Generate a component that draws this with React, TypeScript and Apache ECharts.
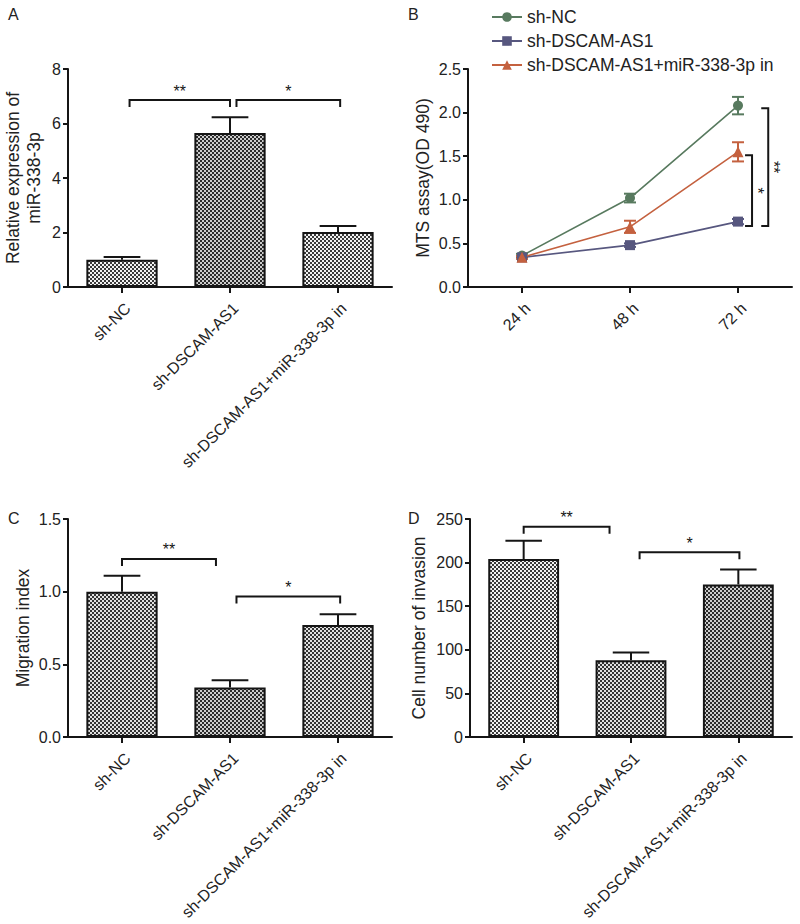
import React, { useEffect, useRef } from 'react';
import * as echarts from 'echarts';

// ---------- data ----------
const groups = ['sh-NC', 'sh-DSCAM-AS1', 'sh-DSCAM-AS1+miR-338-3p in'];
const hours = ['24 h', '48 h', '72 h'];

// Panel A
const relExprMean = [1.0, 5.65, 2.02];
const relExprErr = [0.1, 0.58, 0.22];
const relExprTicks = { min: 0, max: 8, interval: 2 };

// Panel B
const mtsNC = [0.36, 1.02, 2.08];
const mtsNCErr = [0.02, 0.05, 0.1];
const mtsSh = [0.34, 0.48, 0.75];
const mtsShErr = [0.015, 0.02, 0.03];
const mtsShMiR = [0.34, 0.69, 1.55];
const mtsShMiRErr = [0.015, 0.07, 0.11];
const mtsTicks = { min: 0, max: 2.5, interval: 0.5 };

// Panel C
const migrationMean = [1.0, 0.34, 0.77];
const migrationErr = [0.11, 0.05, 0.075];
const migrationTicks = { min: 0, max: 1.5, interval: 0.5 };

// Panel D
const invasionMean = [204, 88, 175];
const invasionErr = [21, 9, 17];
const invasionTicks = { min: 0, max: 250, interval: 50 };

// significance brackets (category positions, value level, label)
const sigA = [
  { from: 0.07, to: 1.0, level: 6.86, label: '**' },
  { from: 1.06, to: 2.02, level: 6.86, label: '*' },
];
const sigC = [
  { from: 0.0, to: 0.87, level: 1.225, label: '**' },
  { from: 1.06, to: 2.02, level: 0.966, label: '*' },
];
const sigD = [
  { from: 0.0, to: 0.8, level: 241, label: '**' },
  { from: 1.08, to: 2.01, level: 212, label: '*' },
];
const sigB = [
  { cat: 2, pos: 0.28, top: 2.05, bottom: 0.7, label: '**' },
  { cat: 2, pos: 0.13, top: 1.51, bottom: 0.7, label: '*' },
];

// ---------- styling ----------
const FONT = '"Liberation Sans", Arial, Helvetica, sans-serif';
const INK = '#151515';
const TXT = '#222';
const lineColors = ['#587a5f', '#57577f', '#c4613f'];

function makePattern(dark: string, light: string) {
  const c = document.createElement('canvas');
  c.width = 4;
  c.height = 4;
  const ctx = c.getContext('2d')!;
  ctx.fillStyle = light;
  ctx.fillRect(0, 0, 4, 4);
  ctx.fillStyle = dark;
  ctx.fillRect(0, 0, 2, 2);
  ctx.fillRect(2, 2, 2, 2);
  return { image: c, repeat: 'repeat', imageWidth: 4, imageHeight: 4 } as any;
}

function barErrRenderer(params: any, api: any) {
  const x = api.value(0);
  const mean = api.value(1);
  const err = api.value(2);
  const base = api.coord([x, mean]);
  const top = api.coord([x, mean + err]);
  const half = api.size([1, 0])[0] * 0.17;
  return {
    type: 'group',
    children: [
      { type: 'line', shape: { x1: base[0], y1: base[1], x2: top[0], y2: top[1] }, style: { stroke: INK, lineWidth: 2 } },
      { type: 'line', shape: { x1: top[0] - half, y1: top[1], x2: top[0] + half, y2: top[1] }, style: { stroke: INK, lineWidth: 2 } },
    ],
  };
}

function lineErrRenderer(color: string) {
  return (params: any, api: any) => {
    const x = api.value(0);
    const mean = api.value(1);
    const err = api.value(2);
    const lo = api.coord([x, mean - err]);
    const hi = api.coord([x, mean + err]);
    const half = 6;
    const st = { stroke: color, lineWidth: 2 };
    return {
      type: 'group',
      children: [
        { type: 'line', shape: { x1: lo[0], y1: lo[1], x2: hi[0], y2: hi[1] }, style: st },
        { type: 'line', shape: { x1: hi[0] - half, y1: hi[1], x2: hi[0] + half, y2: hi[1] }, style: st },
        { type: 'line', shape: { x1: lo[0] - half, y1: lo[1], x2: lo[0] + half, y2: lo[1] }, style: st },
      ],
    };
  };
}

function bracketRenderer(specs: any[]) {
  return (params: any, api: any) => {
    const s = specs[params.dataIndex];
    const band = api.size([1, 0])[0];
    const p0 = api.coord([0, s.level]);
    const x1 = p0[0] + s.from * band;
    const x2 = p0[0] + s.to * band;
    const y = p0[1];
    const leg = 7;
    return {
      type: 'group',
      children: [
        {
          type: 'polyline',
          shape: { points: [[x1, y + leg], [x1, y], [x2, y], [x2, y + leg]] },
          style: { stroke: INK, lineWidth: 2, fill: null },
        },
        {
          type: 'text',
          x: (x1 + x2) / 2,
          y: y - 1,
          style: { text: s.label, fontSize: 16, fontFamily: FONT, fill: INK, align: 'center', verticalAlign: 'bottom' },
        },
      ],
    };
  };
}

function vBracketRenderer(params: any, api: any) {
  const s = sigB[params.dataIndex];
  const band = api.size([1, 0])[0];
  const pt = api.coord([s.cat, s.top]);
  const pb = api.coord([s.cat, s.bottom]);
  const x = pt[0] + s.pos * band;
  const leg = 7;
  return {
    type: 'group',
    children: [
      {
        type: 'polyline',
        shape: { points: [[x - leg, pt[1]], [x, pt[1]], [x, pb[1]], [x - leg, pb[1]]] },
        style: { stroke: INK, lineWidth: 2, fill: null },
      },
      {
        type: 'text',
        x: x - 3,
        y: (pt[1] + pb[1]) / 2,
        rotation: -Math.PI / 2,
        style: { text: s.label, fontSize: 16, fontFamily: FONT, fill: INK, align: 'center', verticalAlign: 'bottom' },
      },
    ],
  };
}

function yAxis(gridIndex: number, t: any, name: string, nameGap: number, fixed?: number) {
  return {
    type: 'value',
    gridIndex,
    min: t.min,
    max: t.max,
    interval: t.interval,
    name,
    nameLocation: 'middle',
    nameRotate: 90,
    nameGap,
    nameMoveOverlap: false,
    nameTextStyle: { fontSize: 17.5, color: TXT, fontFamily: FONT, lineHeight: 21 },
    axisLine: { show: true, lineStyle: { color: INK, width: 2 } },
    axisTick: { show: true, length: 5, lineStyle: { color: INK, width: 2 } },
    axisLabel: {
      fontSize: 16,
      color: TXT,
      fontFamily: FONT,
      margin: 7,
      formatter: fixed != null ? (v: number) => v.toFixed(fixed) : undefined,
    },
    splitLine: { show: false },
  };
}

function xAxis(gridIndex: number, data: string[]) {
  return {
    type: 'category',
    gridIndex,
    data,
    axisLine: { show: true, lineStyle: { color: INK, width: 2 } },
    axisTick: { show: true, alignWithLabel: true, length: 6, lineStyle: { color: INK, width: 2 } },
    axisLabel: {
      rotate: 45,
      fontSize: 16,
      color: TXT,
      fontFamily: FONT,
      margin: 13,
      interval: 0,
      align: 'right',
      verticalAlign: 'top',
    },
    splitLine: { show: false },
  };
}

export default function App() {
  const ref = useRef<HTMLDivElement>(null);
  useEffect(() => {
    document.body.style.margin = '0';
    const chart = echarts.init(ref.current!, null, { renderer: 'svg' });
    const pLight = makePattern('#3a3a3a', '#f2f2f2');
    const pDark = makePattern('#2a2a2a', '#cccccc');
    const pMid = makePattern('#333333', '#e0e0e0');
    const barStyle = (p: any) => ({ color: p, borderColor: INK, borderWidth: 2 });

    const barData = (vals: number[], pats: any[]) => vals.map((v, i) => ({ value: v, itemStyle: barStyle(pats[i]) }));
    const errData = (m: number[], e: number[]) => m.map((v, i) => [i, v, e[i]]);

    const option: any = {
      animation: false,
      backgroundColor: '#fff',
      textStyle: { fontFamily: FONT },
      grid: [
        { left: 68, top: 69, width: 324, height: 218, outerBoundsMode: 'none' },
        { left: 468, top: 69, width: 324, height: 218, outerBoundsMode: 'none' },
        { left: 68, top: 519, width: 324, height: 218, outerBoundsMode: 'none' },
        { left: 470, top: 519, width: 322, height: 218, outerBoundsMode: 'none' },
      ],
      xAxis: [xAxis(0, groups), xAxis(1, hours), xAxis(2, groups), xAxis(3, groups)],
      yAxis: [
        yAxis(0, relExprTicks, 'Relative expression of\nmiR-338-3p', 24),
        yAxis(1, mtsTicks, 'MTS assay(OD 490)', 35, 1),
        yAxis(2, migrationTicks, 'Migration index', 35, 1),
        yAxis(3, invasionTicks, 'Cell number of invasion', 41),
      ],
      legend: {
        orient: 'vertical',
        left: 486,
        top: 3,
        itemWidth: 30,
        itemHeight: 12,
        itemGap: 6,
        textStyle: { fontSize: 17.5, color: TXT, fontFamily: FONT },
        data: groups,
      },
      graphic: [
        { type: 'text', left: 8, top: 6, style: { text: 'A', fontSize: 16, fill: TXT, fontFamily: FONT } },
        { type: 'text', left: 408, top: 6, style: { text: 'B', fontSize: 16, fill: TXT, fontFamily: FONT } },
        { type: 'text', left: 8, top: 510, style: { text: 'C', fontSize: 16, fill: TXT, fontFamily: FONT } },
        { type: 'text', left: 408, top: 510, style: { text: 'D', fontSize: 16, fill: TXT, fontFamily: FONT } },
      ],
      series: [
        // Panel A
        { type: 'bar', name: 'A', xAxisIndex: 0, yAxisIndex: 0, barWidth: '66%', data: barData(relExprMean, [pLight, pDark, pLight]) },
        { type: 'custom', xAxisIndex: 0, yAxisIndex: 0, z: 5, renderItem: barErrRenderer, data: errData(relExprMean, relExprErr) },
        { type: 'custom', xAxisIndex: 0, yAxisIndex: 0, z: 5, renderItem: bracketRenderer(sigA), data: sigA.map((s) => [0, s.level]) },
        // Panel B
        { type: 'custom', xAxisIndex: 1, yAxisIndex: 1, z: 1, renderItem: lineErrRenderer(lineColors[0]), data: errData(mtsNC, mtsNCErr) },
        { type: 'custom', xAxisIndex: 1, yAxisIndex: 1, z: 1, renderItem: lineErrRenderer(lineColors[1]), data: errData(mtsSh, mtsShErr) },
        { type: 'custom', xAxisIndex: 1, yAxisIndex: 1, z: 1, renderItem: lineErrRenderer(lineColors[2]), data: errData(mtsShMiR, mtsShMiRErr) },
        {
          type: 'line', name: groups[0], xAxisIndex: 1, yAxisIndex: 1, z: 3, data: mtsNC, symbol: 'circle', symbolSize: 10,
          color: lineColors[0], lineStyle: { width: 1.6, color: lineColors[0] }, itemStyle: { color: lineColors[0] },
        },
        {
          type: 'line', name: groups[1], xAxisIndex: 1, yAxisIndex: 1, z: 3, data: mtsSh, symbol: 'rect', symbolSize: 10,
          color: lineColors[1], lineStyle: { width: 1.6, color: lineColors[1] }, itemStyle: { color: lineColors[1] },
        },
        {
          type: 'line', name: groups[2], xAxisIndex: 1, yAxisIndex: 1, z: 3, data: mtsShMiR, symbol: 'triangle', symbolSize: 11,
          color: lineColors[2], lineStyle: { width: 1.6, color: lineColors[2] }, itemStyle: { color: lineColors[2] },
        },
        { type: 'custom', xAxisIndex: 1, yAxisIndex: 1, z: 5, renderItem: vBracketRenderer, data: sigB.map((s) => [s.cat, s.top, s.bottom]) },
        // Panel C
        { type: 'bar', name: 'C', xAxisIndex: 2, yAxisIndex: 2, barWidth: '66%', data: barData(migrationMean, [pMid, pDark, pMid]) },
        { type: 'custom', xAxisIndex: 2, yAxisIndex: 2, z: 5, renderItem: barErrRenderer, data: errData(migrationMean, migrationErr) },
        { type: 'custom', xAxisIndex: 2, yAxisIndex: 2, z: 5, renderItem: bracketRenderer(sigC), data: sigC.map((s) => [0, s.level]) },
        // Panel D
        { type: 'bar', name: 'D', xAxisIndex: 3, yAxisIndex: 3, barWidth: '66%', data: barData(invasionMean, [pLight, pMid, pDark]) },
        { type: 'custom', xAxisIndex: 3, yAxisIndex: 3, z: 5, renderItem: barErrRenderer, data: errData(invasionMean, invasionErr) },
        { type: 'custom', xAxisIndex: 3, yAxisIndex: 3, z: 5, renderItem: bracketRenderer(sigD), data: sigD.map((s) => [0, s.level]) },
      ],
    };
    chart.setOption(option);
    return () => chart.dispose();
  }, []);
  return <div ref={ref} style={{ width: 800, height: 924 }} />;
}
